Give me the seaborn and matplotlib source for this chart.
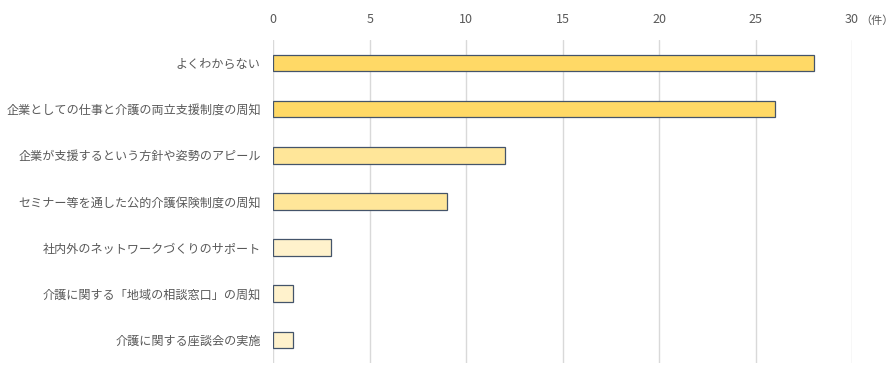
import matplotlib
matplotlib.use("Agg")
import matplotlib.pyplot as plt
import seaborn as sns
import pandas as pd

# data
categories = [
    "よくわからない",
    "企業としての仕事と介護の両立支援制度の周知",
    "企業が支援するという方針や姿勢のアピール",
    "セミナー等を通した公的介護保険制度の周知",
    "社内外のネットワークづくりのサポート",
    "介護に関する「地域の相談窓口」の周知",
    "介護に関する座談会の実施",
]
counts = [28, 26, 12, 9, 3, 1, 1]
bar_colors = ["#FFD966", "#FFD966", "#FFE699", "#FFE699", "#FFF2CC", "#FFF2CC", "#FFF2CC"]
x_ticks = [0, 5, 10, 15, 20, 25, 30]
unit_label = "（件）"

sns.set_theme(style="white")
plt.rcParams["font.family"] = ["Noto Sans CJK JP", "DejaVu Sans"]

df = pd.DataFrame({"item": categories, "count": counts})

fig = plt.figure(figsize=(8.96, 3.8), dpi=100)
ax = fig.add_axes([0.305, 0.045, 0.646, 0.85])

sns.barplot(
    data=df, x="count", y="item", hue="item", palette=bar_colors,
    orient="h", width=0.36, saturation=1, edgecolor="#44546A", linewidth=0.9,
    legend=False, ax=ax, zorder=3,
)

ax.set_xlim(0, 30)
ax.set_ylim(6.5, -0.5)
ax.set_xticks(x_ticks)
ax.xaxis.tick_top()
ax.tick_params(axis="both", length=0, labelsize=8.7, colors="#595959", pad=9)
ax.tick_params(axis="x", labelsize=9, pad=10)
ax.set_xlabel("")
ax.set_ylabel("")
ax.grid(axis="x", color="#D9D9D9", linewidth=1, zorder=0)
ax.set_axisbelow(True)
for s in ax.spines.values():
    s.set_visible(False)

ax.annotate(unit_label, xy=(1, 1), xycoords="axes fraction",
            xytext=(6, 10), textcoords="offset points",
            ha="left", va="bottom", fontsize=8, color="#595959")

fig.savefig("out.png", dpi=100)
